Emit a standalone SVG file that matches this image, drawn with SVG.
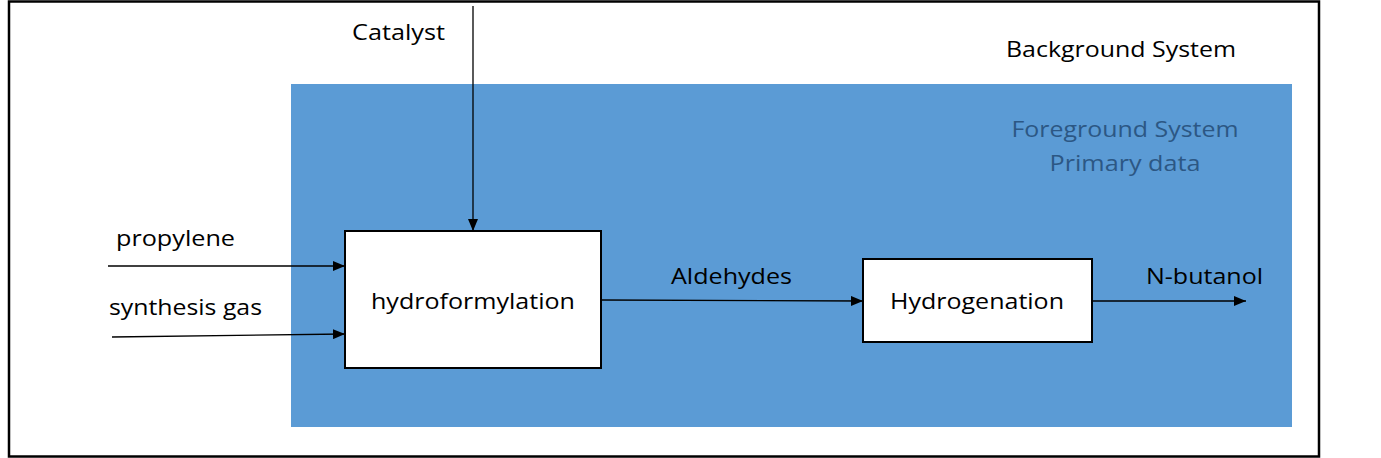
<svg xmlns="http://www.w3.org/2000/svg" width="1381" height="458" viewBox="0 0 1381 458">
<style>
text{font-family:"Open Sans","Liberation Sans",sans-serif;font-size:22px;fill:#000}
.fg{fill:#2C5784}
.ln{stroke:#000;stroke-width:1.3;fill:none}
.box{fill:#fff;stroke:#000;stroke-width:2}
</style>
<defs>
<marker id="ah" markerWidth="12" markerHeight="10" refX="12" refY="5" orient="auto" markerUnits="userSpaceOnUse">
<path d="M0,0 L12,5 L0,10 Z" fill="#000"/>
</marker>
</defs>
<rect x="0" y="0" width="1381" height="458" fill="#fff"/>
<g id="background">
<rect x="9" y="1.5" width="1310" height="455" fill="none" stroke="#000" stroke-width="2.5"/>
<text x="1006" y="57" textLength="230" lengthAdjust="spacingAndGlyphs">Background System</text>
</g>
<g id="foreground">
<rect x="291" y="84" width="1001" height="343" fill="#5B9BD5"/>
<text class="fg" x="1125" y="137" text-anchor="middle" textLength="227" lengthAdjust="spacingAndGlyphs">Foreground System</text>
<text class="fg" x="1125" y="171" text-anchor="middle" textLength="151" lengthAdjust="spacingAndGlyphs">Primary data</text>
</g>
<g id="hydroformylation">
<rect class="box" x="345" y="231" width="256" height="137"/>
<text x="473" y="309" text-anchor="middle" textLength="204" lengthAdjust="spacingAndGlyphs">hydroformylation</text>
</g>
<g id="hydrogenation">
<rect class="box" x="863" y="259" width="229" height="83"/>
<text x="977" y="309" text-anchor="middle" textLength="174" lengthAdjust="spacingAndGlyphs">Hydrogenation</text>
</g>
<g id="connectors">
<line class="ln" x1="473" y1="6" x2="473" y2="231" marker-end="url(#ah)"/>
<line class="ln" x1="108" y1="266" x2="345" y2="266" marker-end="url(#ah)"/>
<line class="ln" x1="112" y1="337" x2="345" y2="334" marker-end="url(#ah)"/>
<line class="ln" x1="601" y1="300" x2="863" y2="301" marker-end="url(#ah)"/>
<line class="ln" x1="1092" y1="301" x2="1246" y2="301" marker-end="url(#ah)"/>
</g>
<g id="labels">
<text x="352" y="40" textLength="93" lengthAdjust="spacingAndGlyphs">Catalyst</text>
<text x="116" y="246" textLength="119" lengthAdjust="spacingAndGlyphs">propylene</text>
<text x="109" y="315" textLength="153" lengthAdjust="spacingAndGlyphs">synthesis gas</text>
<text x="671" y="284" textLength="121" lengthAdjust="spacingAndGlyphs">Aldehydes</text>
<text x="1146" y="284" textLength="117" lengthAdjust="spacingAndGlyphs">N-butanol</text>
</g>
</svg>
